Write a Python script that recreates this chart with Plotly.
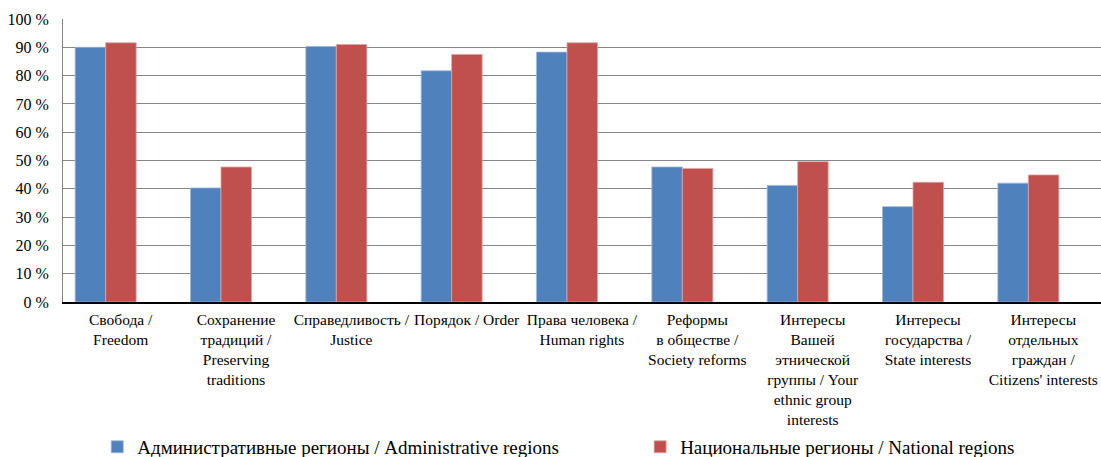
import plotly.graph_objects as go

categories = [
    "Свобода /<br>Freedom",
    "Сохранение<br>традиций /<br>Preserving<br>traditions",
    "Справедливость /<br>Justice",
    "Порядок / Order",
    "Права человека /<br>Human rights",
    "Реформы<br>в обществе /<br>Society reforms",
    "Интересы<br>Вашей<br>этнической<br>группы / Your<br>ethnic group<br>interests",
    "Интересы<br>государства /<br>State interests",
    "Интересы<br>отдельных<br>граждан /<br>Citizens' interests",
]
admin_values = [90.0, 40.3, 90.3, 81.7, 88.3, 47.7, 41.2, 33.7, 42.0]
national_values = [91.6, 47.7, 91.0, 87.5, 91.6, 47.2, 49.6, 42.3, 44.9]
series_names = [
    "Административные регионы / Administrative regions",
    "Национальные регионы / National regions",
]
y_ticks = [0, 10, 20, 30, 40, 50, 60, 70, 80, 90, 100]
y_tick_labels = [f"{v} %" for v in y_ticks]

FONT = "'Liberation Serif', 'Times New Roman', serif"
BLUE = "#4F81BD"
RED = "#C0504D"

positions = list(range(len(categories)))

fig = go.Figure()
fig.add_trace(go.Bar(
    x=positions, y=admin_values, name=series_names[0],
    marker=dict(color=BLUE, line=dict(color="#9DB8DB", width=0.8)),
    legend="legend",
))
fig.add_trace(go.Bar(
    x=positions, y=national_values, name=series_names[1],
    marker=dict(color=RED, line=dict(color="#E0A3A1", width=0.8)),
    legend="legend2",
))
# invisible carrier trace so the label axis (x2) is drawn
fig.add_trace(go.Scatter(
    x=positions, y=admin_values, xaxis="x2", mode="markers",
    marker=dict(opacity=0, size=1), showlegend=False, hoverinfo="skip",
))

legend_common = dict(
    orientation="h", xanchor="left", yanchor="top", y=-0.445,
    font=dict(family=FONT, size=19, color="black"),
    itemwidth=30, bgcolor="rgba(0,0,0,0)",
)

# the page margin is removed below, so the figure fills the whole window
fig.update_layout(
    width=1101, height=457,
    margin=dict(l=63, r=0, t=19, b=155, autoexpand=False),
    paper_bgcolor="white", plot_bgcolor="white",
    barmode="group", bargap=0.471, bargroupgap=0,
    font=dict(family=FONT, color="black", size=16),
    showlegend=True,
    legend=dict(x=0.033, **legend_common),
    legend2=dict(x=0.556, **legend_common),
    xaxis=dict(
        range=[-0.37, 8.63], showgrid=False, showline=True, linecolor="black",
        linewidth=1.5, ticks="", showticklabels=False, zeroline=False,
    ),
    # category labels sit slightly right of the bar groups in the original
    xaxis2=dict(
        overlaying="x", anchor="y", side="bottom",
        range=[-0.50, 8.50], tickmode="array", tickvals=positions, ticktext=categories,
        showgrid=False, showline=False, zeroline=False, ticks="", tickangle=0,
        tickfont=dict(family=FONT, size=15.5, color="black"), ticklabelstandoff=6,
    ),
    yaxis=dict(
        range=[0, 100], tickmode="array", tickvals=y_ticks, ticktext=y_tick_labels,
        showgrid=True, gridcolor="#868686", gridwidth=1,
        showline=True, linecolor="#868686", linewidth=1, zeroline=False,
        ticks="", tickfont=dict(family=FONT, size=16, color="black"),
        ticklabelstandoff=10,
    ),
)

fig.write_html(
    "out.html",
    config={"displayModeBar": False},
    post_script=(
        "document.body.style.margin='0';"
        "document.body.style.overflow='hidden';"
        "document.documentElement.style.overflow='hidden';"
    ),
)
